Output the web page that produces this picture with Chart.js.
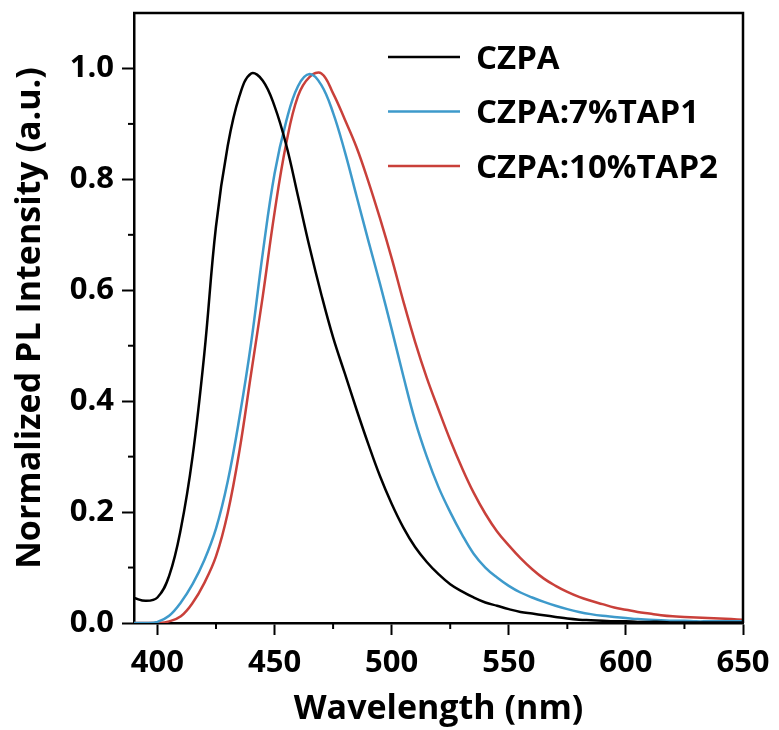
<!DOCTYPE html>
<html>
<head>
<meta charset="utf-8">
<script src="https://cdn.jsdelivr.net/npm/chart.js@4"></script>
<style>
html,body{margin:0;padding:0;background:#fff;}
#wrap{width:779px;height:730px;}
</style>
</head>
<body>
<div id="wrap"><canvas id="c" width="779" height="730"></canvas></div>
<script>
const wavelengths = [390,395,400,405,410,415,420,425,430,435,440,445,450,455,460,465,470,475,480,485,490,495,500,505,510,515,520,525,530,535,540,545,550,555,560,565,570,575,580,585,590,595,600,605,610,615,620,625,630,635,640,645,650];
const czpa = [0.045,0.040,0.046,0.085,0.170,0.300,0.485,0.715,0.860,0.950,0.991,0.978,0.932,0.862,0.770,0.677,0.592,0.515,0.450,0.385,0.323,0.265,0.215,0.172,0.137,0.110,0.088,0.070,0.057,0.046,0.037,0.031,0.025,0.020,0.017,0.014,0.011,0.008,0.006,0.005,0.004,0.003,0.003,0.002,0.002,0.002,0.001,0.001,0.001,0.001,0.001,0.001,0.001];
const tap1 = [0.000,0.000,0.002,0.013,0.037,0.070,0.113,0.170,0.255,0.370,0.505,0.668,0.810,0.905,0.968,0.990,0.970,0.920,0.850,0.770,0.690,0.612,0.530,0.445,0.365,0.300,0.245,0.200,0.160,0.125,0.100,0.082,0.067,0.055,0.046,0.038,0.031,0.025,0.020,0.016,0.013,0.011,0.009,0.007,0.006,0.005,0.004,0.004,0.003,0.003,0.003,0.003,0.003];
const tap2 = [0.000,0.000,0.000,0.003,0.012,0.036,0.072,0.120,0.198,0.310,0.450,0.590,0.740,0.865,0.950,0.985,0.991,0.955,0.908,0.858,0.797,0.730,0.658,0.580,0.507,0.442,0.385,0.330,0.280,0.235,0.197,0.165,0.140,0.117,0.097,0.080,0.067,0.056,0.047,0.040,0.034,0.028,0.024,0.020,0.017,0.014,0.012,0.011,0.010,0.009,0.008,0.007,0.006];

const seriesNames = ['CZPA','CZPA:7%TAP1','CZPA:10%TAP2'];
const seriesColors = ['#000000','#3e9acb','#c9403a'];
const xTicks = [400,450,500,550,600,650];
const yTicks = [0,0.2,0.4,0.6,0.8,1.0];
const xMinorTicks = [425,475,525,575,625];
const yMinorTicks = [0.1,0.3,0.5,0.7,0.9];
const xTitle = 'Wavelength (nm)';
const yTitle = 'Normalized PL Intensity (a.u.)';

const FONT = "'Open Sans', 'DejaVu Sans', sans-serif";
Chart.defaults.font.family = FONT;
Chart.defaults.color = '#000';

const allSeries = [czpa, tap1, tap2];
const datasets = allSeries.map((arr, i) => ({
  label: seriesNames[i],
  data: wavelengths.map((w, k) => ({x: w, y: arr[k]})),
  borderColor: seriesColors[i],
  backgroundColor: seriesColors[i],
  borderWidth: 2.5,
  pointRadius: 0,
  tension: 0.4,
  fill: false
}));

const decor = {
  id: 'decor',
  afterDraw(chart) {
    const {ctx, chartArea: a, scales: {x, y}} = chart;
    ctx.save();
    ctx.strokeStyle = '#000';
    ctx.lineWidth = 2.5;
    ctx.beginPath();
    ctx.moveTo(a.left - 1, a.top);
    ctx.lineTo(a.right, a.top);
    ctx.lineTo(a.right, a.bottom);
    ctx.stroke();
    ctx.lineWidth = 2;
    xMinorTicks.forEach(v => {
      const px = x.getPixelForValue(v);
      ctx.beginPath(); ctx.moveTo(px, a.bottom); ctx.lineTo(px, a.bottom + 6); ctx.stroke();
    });
    yMinorTicks.forEach(v => {
      const py = y.getPixelForValue(v);
      ctx.beginPath(); ctx.moveTo(a.left, py); ctx.lineTo(a.left - 6, py); ctx.stroke();
    });
    // legend
    ctx.font = "bold 33px " + FONT;
    ctx.textBaseline = 'alphabetic';
    ctx.textAlign = 'left';
    chart.data.datasets.forEach((ds, i) => {
      const ly = 57 + i * 54.5;
      ctx.strokeStyle = ds.borderColor;
      ctx.lineWidth = 2.5;
      ctx.beginPath(); ctx.moveTo(388, ly); ctx.lineTo(460, ly); ctx.stroke();
      ctx.fillStyle = '#000';
      ctx.fillText(ds.label, 476, ly + 11.5);
    });
    ctx.restore();
  }
};

new Chart(document.getElementById('c'), {
  type: 'line',
  data: {datasets},
  plugins: [decor],
  options: {
    responsive: false,
    animation: false,
    layout: {padding: {top: 13, right: 36, left: 0, bottom: 0}},
    plugins: {legend: {display: false}, tooltip: {enabled: false}},
    scales: {
      x: {
        type: 'linear', min: 390, max: 650,
        afterBuildTicks: s => { s.ticks = xTicks.map(v => ({value: v})); },
        afterFit: s => { s.height = 107; s.paddingLeft = 0; s.paddingRight = 0; },
        border: {display: true, color: '#000', width: 2.5},
        grid: {drawOnChartArea: false, drawTicks: true, tickLength: 12, tickWidth: 2, tickColor: '#000'},
        ticks: {font: {size: 31, weight: 'bold'}, color: '#000', padding: 10, maxRotation: 0, autoSkip: false,
                callback: v => String(v)},
        title: {display: true, text: xTitle, font: {size: 34, weight: 'bold'}, color: '#000', padding: {top: 0, bottom: 0}}
      },
      y: {
        type: 'linear', min: 0, max: 1.1,
        afterBuildTicks: s => { s.ticks = yTicks.map(v => ({value: v})); },
        afterFit: s => { s.width = 134; s.paddingTop = 0; s.paddingBottom = 0; },
        border: {display: true, color: '#000', width: 2.5},
        grid: {drawOnChartArea: false, drawTicks: true, tickLength: 12, tickWidth: 2, tickColor: '#000'},
        ticks: {font: {size: 31, weight: 'bold'}, color: '#000', padding: 8, autoSkip: false,
                callback: v => Number(v).toFixed(1)},
        title: {display: true, text: yTitle, font: {size: 34, weight: 'bold'}, color: '#000', padding: {top: 10, bottom: 0}}
      }
    }
  }
});
</script>
</body>
</html>
